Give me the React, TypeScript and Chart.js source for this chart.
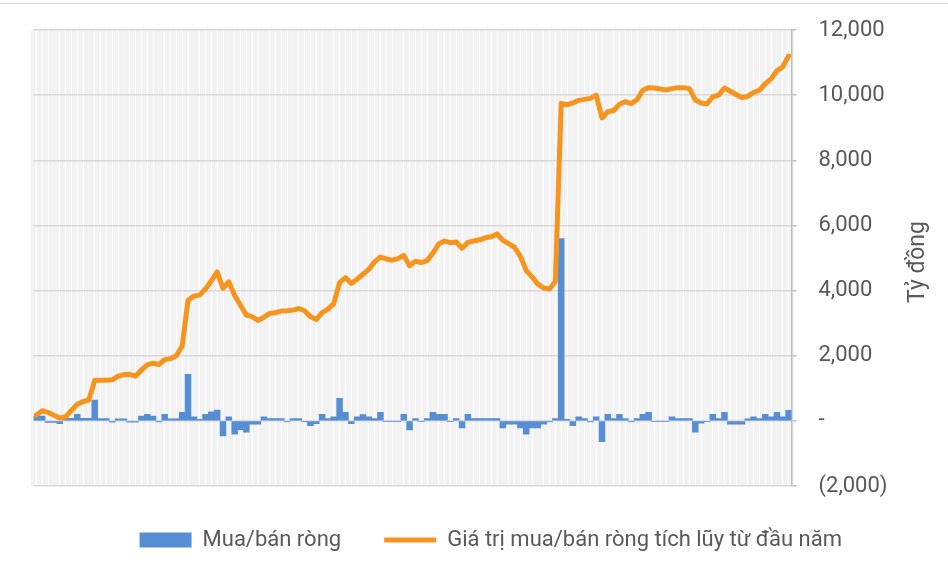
import { useEffect, useRef } from 'react';
import { Chart, registerables } from 'chart.js';

Chart.register(...registerables);

// Net buy/sell per session (tỷ đồng)
const netFlow: number[] = [
  150, 150, -50, -50, -90, 80, 80, 200, 80, 80,
  640, 70, 70, -40, 60, 60, -40, -40, 150, 200,
  150, -30, 200, 60, 60, 260, 1430, 120, 50, 200,
  280, 330, -460, 120, -410, -280, -350, -100, -100, 120,
  70, 70, 70, -30, 70, 70, -30, -150, -90, 200,
  70, 120, 690, 260, -90, 120, 190, 120, 70, 260,
  -20, -20, -20, 200, -280, 70, -20, 70, 260, 200,
  200, -20, 70, -220, 200, 70, 70, 70, 70, 70,
  -220, -100, -100, -220, -410, -220, -220, -100, -30, 70,
  5600, 50, -150, 120, 70, -30, 120, -640, 200, 70,
  200, 70, -30, 70, 200, 260, -20, -20, -20, 120,
  70, 70, 70, -350, -70, -20, 200, 70, 260, -100,
  -100, -100, 60, 120, 70, 200, 120, 260, 120, 320,
];

// Cumulative net value since the start of the year (tỷ đồng)
const cumulative: number[] = [
  180, 310, 260, 170, 90, 120, 320, 510, 590, 640,
  1250, 1250, 1250, 1260, 1370, 1420, 1430, 1370, 1560, 1720,
  1770, 1730, 1880, 1910, 2000, 2300, 3700, 3830, 3860, 4050,
  4300, 4570, 4070, 4270, 3850, 3550, 3250, 3200, 3080, 3180,
  3300, 3320, 3370, 3380, 3400, 3450, 3380, 3200, 3110, 3320,
  3430, 3600, 4250, 4400, 4220, 4350, 4500, 4650, 4880, 5030,
  4970, 4930, 4980, 5080, 4760, 4900, 4860, 4920, 5150, 5430,
  5520, 5470, 5490, 5300, 5480, 5520, 5560, 5620, 5650, 5740,
  5540, 5440, 5330, 5050, 4620, 4420, 4200, 4080, 4050, 4280,
  9750, 9700, 9760, 9840, 9870, 9900, 10000, 9300, 9490, 9530,
  9720, 9800, 9740, 9860, 10150, 10230, 10220, 10190, 10160, 10200,
  10230, 10230, 10200, 9850, 9760, 9730, 9950, 10000, 10220, 10120,
  10020, 9930, 9960, 10080, 10150, 10350, 10500, 10750, 10870, 11200,
];

const sessions: string[] = netFlow.map((_, i) => `Phiên ${i + 1}`);

const SERIES_BAR = 'Mua/bán ròng';
const SERIES_LINE = 'Giá trị mua/bán ròng tích lũy từ đầu năm';
const AXIS_TITLE = 'Tỷ đồng';
const Y_MIN = -2000;
const Y_MAX = 12000;
const Y_STEP = 2000;

const FONT = "Roboto, 'Liberation Sans', sans-serif";

function fmt(v: number): string {
  if (v === 0) return '-';
  const s = Math.abs(v).toLocaleString('en-US');
  return v < 0 ? `(${s})` : s;
}

export default function App() {
  const ref = useRef<HTMLCanvasElement>(null);

  useEffect(() => {
    const canvas = ref.current;
    if (!canvas) return;

    const decor = {
      id: 'decor',
      beforeDraw(chart: any) {
        const { ctx } = chart;
        ctx.save();
        ctx.strokeStyle = '#d9d9d9';
        ctx.lineWidth = 1;
        ctx.beginPath();
        ctx.moveTo(0, 3.5);
        ctx.lineTo(chart.width, 3.5);
        ctx.stroke();
        ctx.restore();
      },
      afterDraw(chart: any) {
        const { ctx, chartArea } = chart;
        ctx.save();
        ctx.translate(918, (chartArea.top + chartArea.bottom) / 2 + 4);
        ctx.rotate(-Math.PI / 2);
        ctx.font = `23px ${FONT}`;
        ctx.fillStyle = '#595959';
        ctx.textAlign = 'center';
        ctx.textBaseline = 'middle';
        ctx.fillText(AXIS_TITLE, 0, 0);
        ctx.restore();
      },
    };

    const chart = new Chart(canvas, {
      type: 'bar',
      data: {
        labels: sessions,
        datasets: [
          {
            type: 'bar',
            label: SERIES_BAR,
            data: netFlow,
            backgroundColor: '#558ED5',
            borderWidth: 0,
            categoryPercentage: 1,
            barPercentage: 1,
            order: 2,
            pointStyle: 'rect',
          } as any,
          {
            type: 'line',
            label: SERIES_LINE,
            data: cumulative,
            borderColor: '#F7941D',
            backgroundColor: '#F7941D',
            borderWidth: 5,
            pointRadius: 0,
            pointHoverRadius: 0,
            pointBorderWidth: 5,
            pointStyle: 'line',
            tension: 0,
            borderCapStyle: 'round',
            borderJoinStyle: 'round',
            order: 1,
          } as any,
        ],
      },
      options: {
        responsive: false,
        animation: false,
        layout: { padding: { left: 33.5, right: 0, top: 30, bottom: 10 } },
        plugins: {
          legend: {
            position: 'bottom',
            labels: {
              usePointStyle: true,
              pointStyleWidth: 52,
              boxHeight: 15,
              padding: 43,
              color: '#595959',
              font: { family: FONT, size: 22 },
              sort: (a: any, b: any) => a.datasetIndex - b.datasetIndex,
            },
          },
          tooltip: { enabled: false },
        },
        scales: {
          x: {
            grid: { color: '#f2f2f2', lineWidth: 4.8, offset: true, drawTicks: false },
            border: { display: false },
            ticks: { display: false },
          },
          y: {
            position: 'right',
            min: Y_MIN,
            max: Y_MAX,
            ticks: {
              stepSize: Y_STEP,
              padding: 22,
              color: '#595959',
              font: { family: FONT, size: 22 },
              callback: (v: any) => fmt(Number(v)),
            },
            grid: { color: '#d9d9d9', lineWidth: 1.5, tickLength: 5, tickColor: '#bfbfbf' },
            border: { color: '#bfbfbf', width: 1.5 },
            afterFit: (scale: any) => {
              scale.width = 156.5;
              scale.paddingTop = 12;
              scale.paddingBottom = 12;
            },
          },
        },
      } as any,
      plugins: [decor],
    });

    return () => chart.destroy();
  }, []);

  return (
    <canvas
      ref={ref}
      width={948}
      height={571}
      style={{ position: 'absolute', left: 0, top: 0, display: 'block' }}
    />
  );
}
